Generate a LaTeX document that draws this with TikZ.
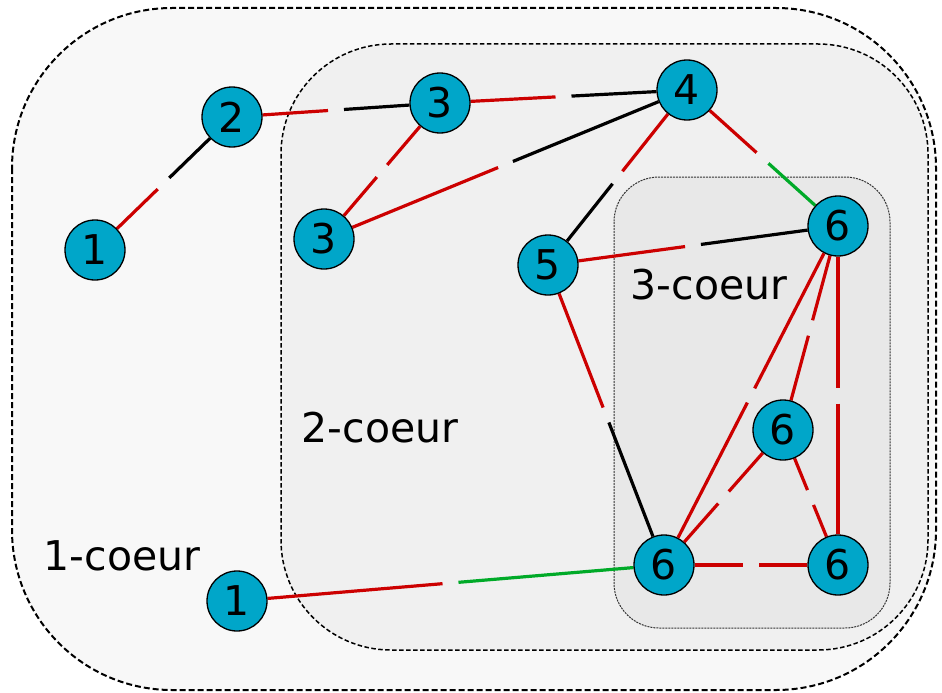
\documentclass[tikz,border=0pt]{standalone}
\usepackage{fontspec}
\setmainfont{DejaVu Sans}
\usetikzlibrary{calc}
\pgfdeclarelayer{bg}
\pgfdeclarelayer{edges}
\pgfsetlayers{bg,edges,main}
\definecolor{nodeblue}{RGB}{0,166,201}
\definecolor{ered}{RGB}{204,0,0}
\definecolor{egreen}{RGB}{0,170,40}
\definecolor{core1}{RGB}{248,248,248}
\definecolor{core2}{RGB}{240,240,240}
\definecolor{core3}{RGB}{232,232,232}
\newcommand\twoedge[4]{%
  \path (#1) -- (#2) coordinate[pos=0.5] (m);
  \draw[edgeline,#3] (#1) -- ($(m)!8pt!(#1)$);
  \draw[edgeline,#4] ($(m)!8pt!(#2)$) -- (#2);}
\begin{document}
\begin{tikzpicture}[x=1pt,y=-1pt,
  vert/.style={circle,draw=black,line width=1.3pt,fill=nodeblue,minimum size=60pt,inner sep=0pt,font=\fontsize{41}{48}\selectfont},
  edgeline/.style={line width=3.2pt},
  corelabel/.style={font=\fontsize{41}{48}\selectfont,inner sep=0pt},
  core1box/.style={draw=black,fill=core1,line width=2pt,dash pattern=on 6pt off 3pt,rounded corners=160pt},
  core2box/.style={draw=black,fill=core2,line width=1.5pt,dash pattern=on 4.5pt off 2.5pt,rounded corners=110pt},
  core3box/.style={draw=black!80,fill=core3,line width=1pt,dash pattern=on 2pt off 1pt,rounded corners=45pt}]
\useasboundingbox (0,0) rectangle (942,693);
\begin{pgfonlayer}{bg}
  \draw[core1box] (12,8) rectangle (936,690);
  \draw[core2box] (281,44) rectangle (928,650);
  \draw[core3box] (614,177) rectangle (890,628);
\end{pgfonlayer}
\node[corelabel] (l3) at (709,285) {3-coeur};
\node[corelabel] (l2) at (380,428) {2-coeur};
\node[corelabel] (l1) at (122,556) {1-coeur};
\node[vert] (n1a) at (95,250) {1};
\node[vert] (n2) at (232,117) {2};
\node[vert] (n3a) at (440,103) {3};
\node[vert] (n4) at (687,90) {4};
\node[vert] (n3b) at (324,239) {3};
\node[vert] (n5) at (548,265) {5};
\node[vert] (n6a) at (838,226) {6};
\node[vert] (n6b) at (783,430) {6};
\node[vert] (n6c) at (664,565) {6};
\node[vert] (n6d) at (838,565) {6};
\node[vert] (n1b) at (237,601) {1};
\begin{pgfonlayer}{edges}
  \twoedge{n1a}{n2}{ered}{black}
  \twoedge{n2}{n3a}{ered}{black}
  \twoedge{n3a}{n4}{ered}{black}
  \twoedge{n3a}{n3b}{ered}{ered}
  \twoedge{n3b}{n4}{ered}{black}
  \twoedge{n4}{n5}{ered}{black}
  \twoedge{n4}{n6a}{ered}{egreen}
  \twoedge{n5}{n6a}{ered}{black}
  \twoedge{n5}{n6c}{ered}{black}
  \twoedge{n6a}{n6c}{ered}{ered}
  \twoedge{n6a}{n6b}{ered}{ered}
  \twoedge{n6a}{n6d}{ered}{ered}
  \twoedge{n6b}{n6c}{ered}{ered}
  \twoedge{n6b}{n6d}{ered}{ered}
  \twoedge{n6c}{n6d}{ered}{ered}
  \twoedge{n1b}{n6c}{ered}{egreen}
\end{pgfonlayer}
\end{tikzpicture}
\end{document}
